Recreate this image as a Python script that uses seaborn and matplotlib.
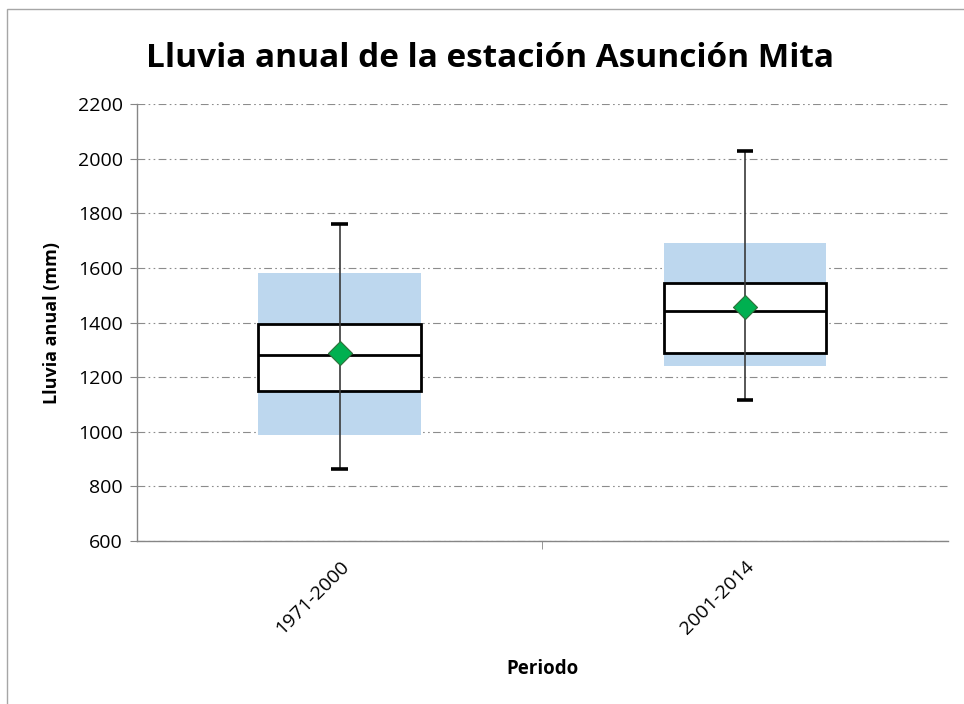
import matplotlib
matplotlib.use("Agg")
import matplotlib.pyplot as plt
import seaborn as sns
import numpy as np
from matplotlib.patches import Rectangle

# Datos (mm)
periodos = ["1971-2000", "2001-2014"]
minimo = [865, 1115]
p_bajo = [990, 1242]      # franja azul inferior
q1 = [1150, 1287]
mediana = [1282, 1441]
media = [1288, 1458]
q3 = [1395, 1544]
p_alto = [1580, 1690]     # franja azul superior
maximo = [1762, 2029]

sns.set_style("white")
plt.rcParams["font.family"] = ["Open Sans", "DejaVu Sans"]

fig = plt.figure(figsize=(9.64, 7.04), dpi=100)
ax = fig.add_axes([0.142, 0.2315, 0.841, 0.6205])

ancho = 0.4
x = np.arange(len(periodos))

# franja azul
sns.barplot(x=periodos, y=np.subtract(p_alto, p_bajo), bottom=p_bajo,
            color="#BDD7EE", saturation=1, width=ancho, errorbar=None,
            linewidth=0, ax=ax, zorder=2)
# caja Q1-Q3
sns.barplot(x=periodos, y=np.subtract(q3, q1), bottom=q1,
            color="white", saturation=1, width=ancho, errorbar=None,
            edgecolor="black", linewidth=2.0, ax=ax, zorder=3)
# mediana
ax.hlines(mediana, x - ancho / 2, x + ancho / 2, color="black", lw=2.0, zorder=4)
# bigotes
ax.vlines(x, minimo, maximo, color="#3A3A3A", lw=1.2, zorder=5)
ax.hlines(minimo, x - 0.02, x + 0.02, color="black", lw=2.6, zorder=5)
ax.hlines(maximo, x - 0.02, x + 0.02, color="black", lw=2.6, zorder=5)
# media
sns.scatterplot(x=x, y=media, marker="D", s=150, color="#00B050",
                edgecolor="#2F6F3A", linewidth=0.8, ax=ax, zorder=6)

ax.set_xlim(-0.5, 1.5)
ax.set_ylim(600, 2200)
ax.set_yticks(np.arange(600, 2201, 200))
ax.yaxis.grid(True, color="#8C8C8C", lw=0.8, linestyle=(0, (7, 3, 1.5, 3, 1.5, 3)))
ax.set_axisbelow(True)

for s in ["top", "right"]:
    ax.spines[s].set_visible(False)
for s in ["left", "bottom"]:
    ax.spines[s].set_color("#868686")
    ax.spines[s].set_linewidth(1.0)

ax.tick_params(axis="y", which="major", length=5, color="#868686",
               labelsize=14, labelcolor="black", pad=5, left=True)
ax.set_xticks(x)
ax.set_xticklabels(periodos, rotation=45, ha="right", rotation_mode="anchor",
                   fontsize=14, color="black")
ax.tick_params(axis="x", which="major", length=0, pad=12)
ax.set_xticks([0.5], minor=True)
ax.tick_params(axis="x", which="minor", length=6, color="#868686", bottom=True)

ax.set_xlabel("Periodo", fontsize=13.5, fontweight="bold", labelpad=15, color="black")
ax.set_ylabel("Lluvia anual (mm)", fontsize=13, fontweight="bold", labelpad=12, color="black")

fig.suptitle("Lluvia anual de la estación Asunción Mita", x=0.508, y=0.94,
             fontsize=24, fontweight="bold", color="black")

# borde del área del gráfico
fig.patches.append(Rectangle((0.0073, -0.1), 1.2, 1.087, transform=fig.transFigure,
                             fill=False, edgecolor="#A6A6A6", lw=1.0))

fig.savefig("out.png", dpi=100)
